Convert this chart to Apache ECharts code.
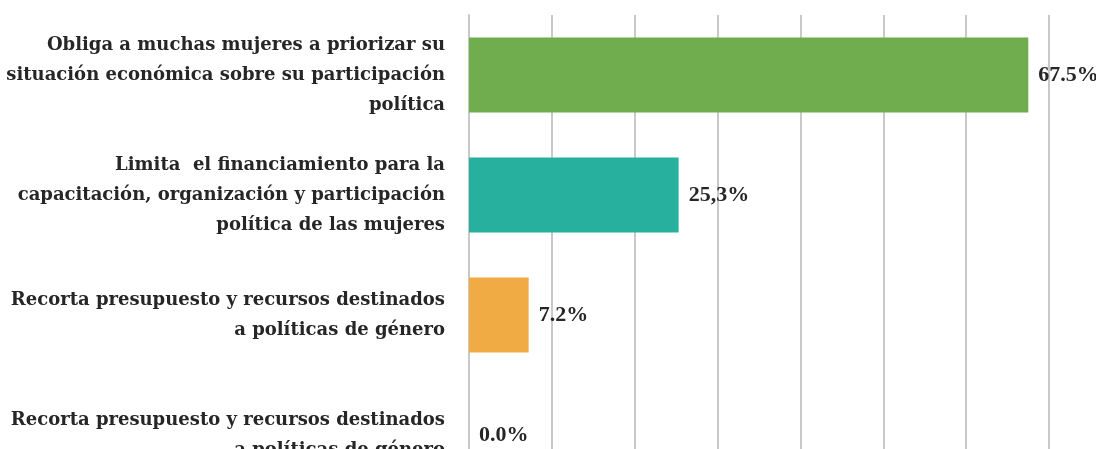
<!DOCTYPE html>
<html>
<head>
<meta charset="utf-8">
<script src="https://cdn.jsdelivr.net/npm/echarts@6/dist/echarts.min.js"></script>
<style>
html,body{margin:0;padding:0;background:#fff;}
#chart{width:1096px;height:449px;}
</style>
</head>
<body>
<div id="chart"></div>
<script>
const categories = [
  "Obliga a muchas mujeres a priorizar su\nsituación económica sobre su participación\npolítica",
  "Limita  el financiamiento para la\ncapacitación, organización y participación\npolítica de las mujeres",
  "Recorta presupuesto y recursos destinados\na políticas de género",
  "Recorta presupuesto y recursos destinados\na políticas de género"
];
const values = [67.5, 25.3, 7.2, 0.0];
const valueLabels = ["67.5%", "25,3%", "7.2%", "0.0%"];
const barColors = ["#70AD4F", "#26B09D", "#F0AB45", "#A5A5A5"];
const axisMin = 0, axisMax = 70, axisStep = 10;

const labelFont = '"DejaVu Serif", "Liberation Serif", serif';
const valueFont = '"Liberation Serif", serif';
const chart = echarts.init(document.getElementById('chart'), null, {renderer: 'canvas'});
chart.setOption({
  animation: false,
  backgroundColor: '#ffffff',
  grid: {left: 469, right: 47, top: 15, height: 480, containLabel: false, outerBoundsMode: 'none'},
  xAxis: {
    type: 'value', min: axisMin, max: axisMax, interval: axisStep,
    axisLabel: {show: false}, axisLine: {show: false}, axisTick: {show: false},
    splitLine: {show: true, lineStyle: {color: '#c9c9c9', width: 2}}
  },
  yAxis: {
    type: 'category', inverse: true, data: categories,
    axisLine: {show: true, lineStyle: {color: '#c9c9c9', width: 2}},
    axisTick: {show: false},
    axisLabel: {
      margin: 24, align: 'right',
      fontFamily: labelFont, fontWeight: 'bold', fontSize: 18, lineHeight: 30, color: '#262626'
    }
  },
  series: [{
    type: 'bar', barWidth: '62.5%',
    data: values.map((v, i) => ({value: v, itemStyle: {color: barColors[i]}})),
    label: {
      show: true, position: 'right', distance: 10,
      formatter: p => valueLabels[p.dataIndex],
      fontFamily: valueFont, fontWeight: 'bold', fontSize: 22, color: '#262626'
    }
  }]
});
</script>
</body>
</html>
